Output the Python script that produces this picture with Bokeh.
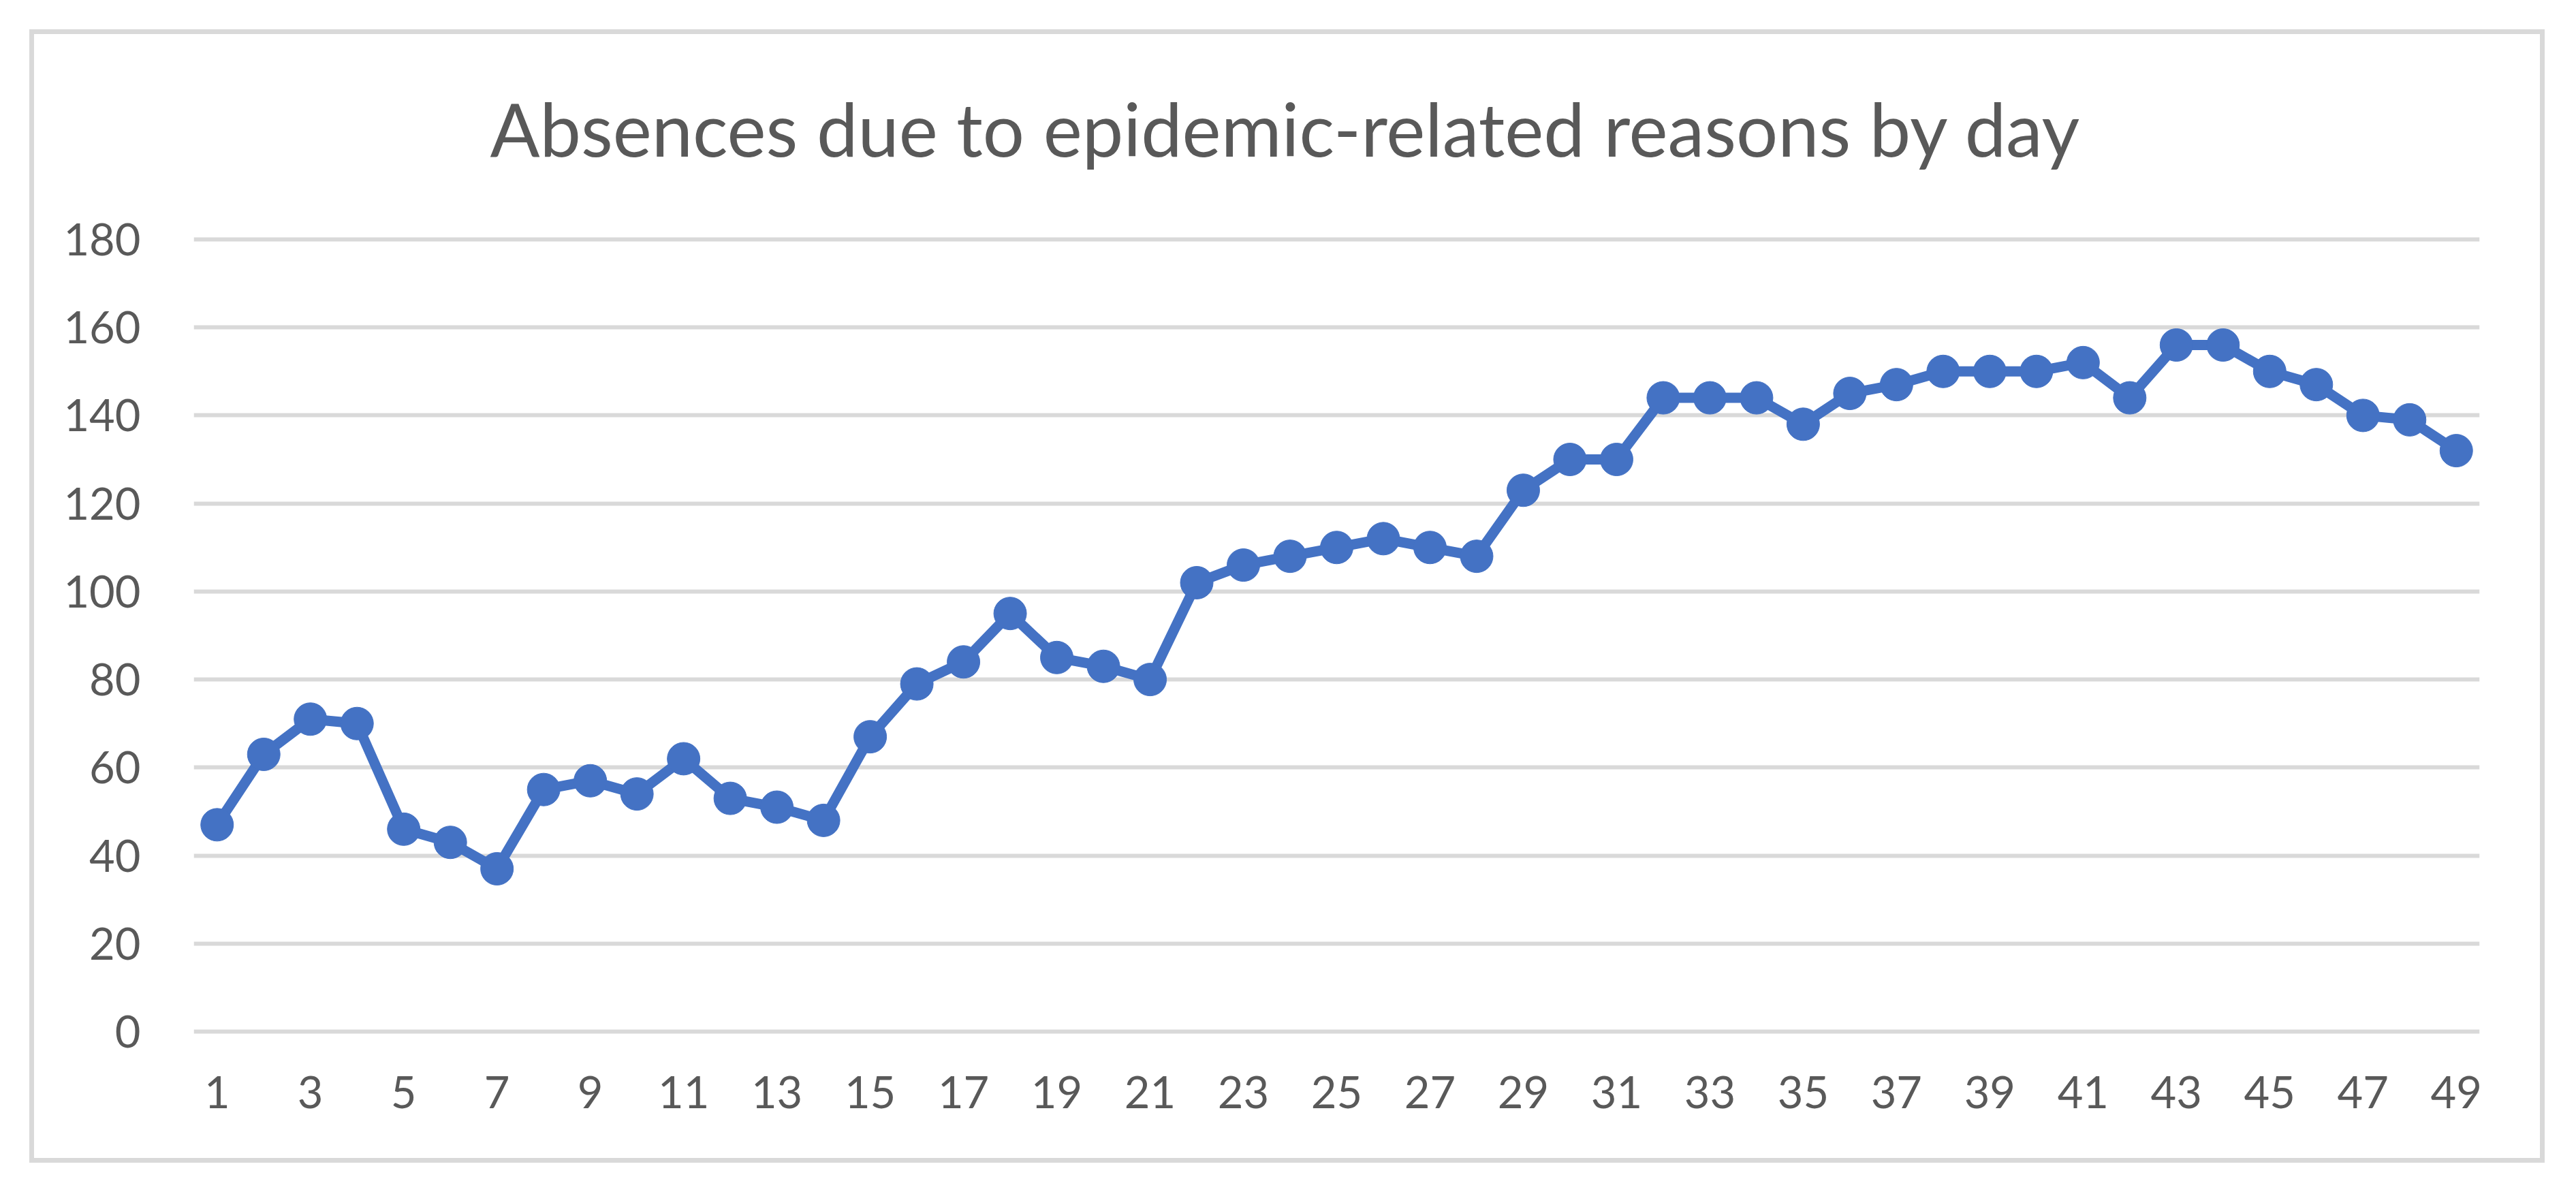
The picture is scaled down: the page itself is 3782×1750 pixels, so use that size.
from bokeh.plotting import figure
from bokeh.models import Range1d, FixedTicker, InlineStyleSheet
from bokeh.embed import file_html
from bokeh.resources import INLINE

# ---- data ----
days = list(range(1, 50))
absences = [47, 63, 71, 70, 46, 43, 37, 55, 57, 54, 62, 53, 51, 48, 67, 79, 84, 95, 85, 83,
            80, 102, 106, 108, 110, 112, 110, 108, 123, 130, 130, 144, 144, 144, 138, 145, 147, 150, 150, 150,
            152, 144, 156, 156, 150, 147, 140, 139, 132]
x_ticks = list(range(1, 50, 2))
y_ticks = list(range(0, 181, 20))
title_text = "Absences due to epidemic-related reasons by day"

W, H = 3779, 1750
FL, FR = 284, 3640      # frame left/right (figure px)
FT, FB = 338, 1527      # frame top/bottom (figure px)

TEXT = "#595959"
GRID = "#D9D9D9"
BLUE = "#4472C4"
FONT = "Lato"

p = figure(width=W, height=H, output_backend="svg", toolbar_location=None,
           x_range=Range1d(0.5, 49.5), y_range=Range1d(-2, 182),
           min_border_left=FL, min_border_right=W - FR,
           min_border_top=FT, min_border_bottom=H - FB)
p.outline_line_color = None
# transparent canvas so the element's outline (chart border) shows through
p.background_fill_color = None
p.border_fill_color = None

border_css = "outline: 7px solid #D9D9D9; outline-offset: -50px; background: white;"
p.styles = {"outline": "7px solid #D9D9D9", "outline-offset": "-50px", "background-color": "white"}
p.stylesheets = [InlineStyleSheet(css=":host { " + border_css + " }")]

p.title.text = title_text
p.title.text_font = FONT
p.title.text_font_size = "108px"
p.title.text_font_style = "normal"
p.title.text_color = TEXT
p.title.align = "left"
p.title.offset = 435
p.title.standoff = 171

p.xgrid.grid_line_color = None
p.ygrid.grid_line_color = GRID
p.ygrid.grid_line_width = 6
p.ygrid.ticker = FixedTicker(ticks=y_ticks)

for ax in (p.xaxis[0], p.yaxis[0]):
    ax.axis_line_color = None
    ax.major_tick_line_color = None
    ax.minor_tick_line_color = None
    ax.major_label_text_font = FONT
    ax.major_label_text_font_size = "65px"
    ax.major_label_text_color = TEXT

p.xaxis.ticker = FixedTicker(ticks=x_ticks)
p.yaxis.ticker = FixedTicker(ticks=y_ticks)
p.xaxis.major_label_standoff = 46
p.yaxis.major_label_standoff = 72

p.line(days, absences, line_width=15, line_color=BLUE, line_join="round")
p.scatter(days, absences, size=48, fill_color=BLUE, line_color=BLUE)

open("out.html", "w").write(file_html(p, INLINE))
